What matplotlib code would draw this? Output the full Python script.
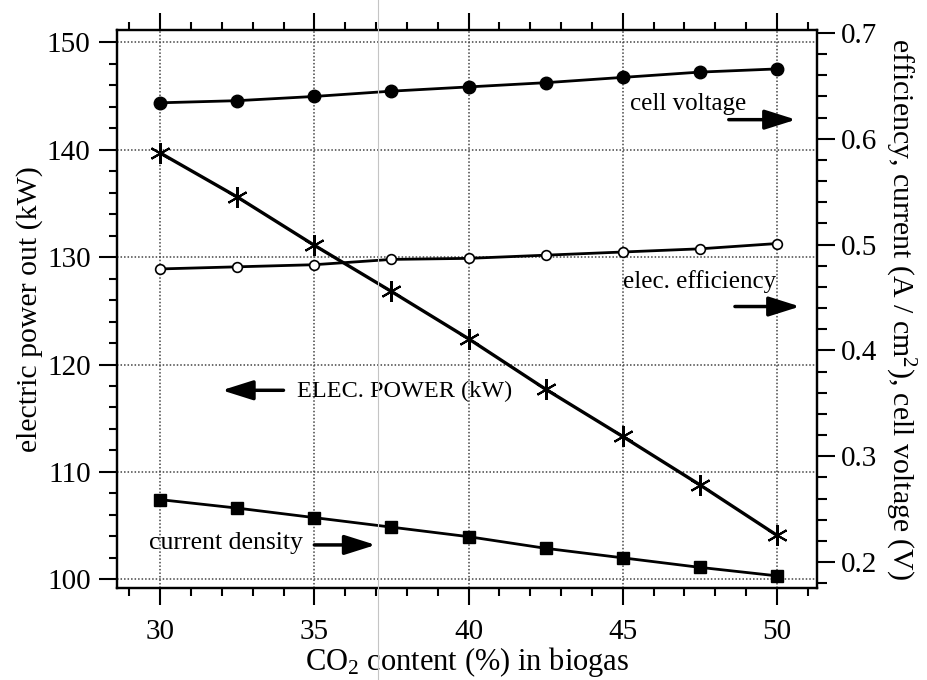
import matplotlib
matplotlib.use("Agg")
import matplotlib.pyplot as plt
from matplotlib.lines import Line2D
from matplotlib.ticker import MultipleLocator, FormatStrFormatter

plt.rcParams['font.family'] = ['Liberation Serif', 'DejaVu Serif']
plt.rcParams['mathtext.fontset'] = 'custom'
plt.rcParams['mathtext.rm'] = 'Liberation Serif'
plt.rcParams['mathtext.it'] = 'Liberation Serif:italic'

# Datos
co2 = [30, 32.5, 35, 37.5, 40, 42.5, 45, 47.5, 50]
potencia_kw = [139.7, 135.6, 131.1, 126.8, 122.4, 117.7, 113.3, 108.8, 104.1]
voltaje = [0.634, 0.636, 0.640, 0.645, 0.649, 0.653, 0.658, 0.663, 0.666]
eficiencia = [0.477, 0.479, 0.481, 0.486, 0.487, 0.490, 0.493, 0.496, 0.501]
densidad = [0.259, 0.251, 0.242, 0.233, 0.224, 0.213, 0.204, 0.195, 0.187]

x_ticks = [30, 35, 40, 45, 50]
left_ticks = [100, 110, 120, 130, 140, 150]
right_ticks = [0.2, 0.3, 0.4, 0.5, 0.6, 0.7]

fig = plt.figure(figsize=(9.27, 6.8), dpi=100)
ax = fig.add_axes([0.1262, 0.1353, 0.7551, 0.8206])
ax2 = ax.twinx()

# Ejes y rejilla
ax.set_xlim(28.6, 51.3)
ax.set_ylim(99.19, 151.15)
ax2.set_ylim(0.1755, 0.7028)
ax.set_xticks(x_ticks)
ax.set_yticks(left_ticks)
ax2.set_yticks(right_ticks)
ax.xaxis.set_minor_locator(MultipleLocator(1))
ax.yaxis.set_minor_locator(MultipleLocator(2))
ax2.yaxis.set_minor_locator(MultipleLocator(0.02))
ax2.yaxis.set_major_formatter(FormatStrFormatter('%.1f'))

ax.set_axisbelow(True)
ax.grid(True, which='major', color='#444444', linestyle=(0, (1, 1.3)), lw=1.1)

for a in (ax, ax2):
    for s in a.spines.values():
        s.set_linewidth(1.6)

ax.tick_params(axis='x', which='both', direction='out', top=True, width=1.5)
ax.tick_params(axis='x', which='major', length=12, labelsize=21, pad=10)
ax.tick_params(axis='x', which='minor', length=5.5)
ax.tick_params(axis='y', which='both', direction='out', right=False, width=1.5)
ax.tick_params(axis='y', which='major', length=13, labelsize=21, pad=6)
ax.tick_params(axis='y', which='minor', length=5.5)
ax2.tick_params(axis='y', which='both', direction='out', width=1.5)
ax2.tick_params(axis='y', which='major', length=13, labelsize=21, pad=4)
ax2.tick_params(axis='y', which='minor', length=7)

# Series
ax.plot(co2, potencia_kw, color='k', lw=2.4, marker=(6, 2, 0), ms=15, mew=1.5, zorder=3)
ax2.plot(co2, voltaje, color='k', lw=2.0, marker='o', ms=9, zorder=3)
ax2.plot(co2, eficiencia, color='k', lw=2.0, marker='o', ms=7, mfc='white', mew=1.2, zorder=3)
ax2.plot(co2, densidad, color='k', lw=2.0, marker='s', ms=9, zorder=3)

# Etiquetas
ax.set_xlabel('CO$_2$ content (%) in biogas', fontsize=22, labelpad=0)
ax.set_ylabel('electric power out (kW)', fontsize=21.5, labelpad=3)
ax2.set_ylabel('efficiency, current (A / cm$^2$), cell voltage (V)', fontsize=21.5,
               rotation=270, labelpad=29)

flecha = dict(arrowstyle='-|>,head_length=0.95,head_width=0.3', lw=2.5, color='k',
              mutation_scale=20, shrinkA=0, shrinkB=0)

ax.text(45.25, 144.3, 'cell voltage', fontsize=18, va='center')
ax.annotate('', xy=(50.62, 142.8), xytext=(48.44, 142.8), arrowprops=flecha)
ax.text(45.0, 127.7, 'elec. efficiency', fontsize=18, va='center')
ax.annotate('', xy=(50.75, 125.4), xytext=(48.64, 125.4), arrowprops=flecha)
ax.text(34.45, 117.5, 'ELEC. POWER (kW)', fontsize=17.5, va='center')
ax.annotate('', xy=(32.0, 117.6), xytext=(34.0, 117.6), arrowprops=flecha)
ax.text(29.65, 103.4, 'current density', fontsize=18.5, va='center')
ax.annotate('', xy=(36.99, 103.2), xytext=(35.0, 103.2), arrowprops=flecha)

# Línea tenue del escaneo
fig.add_artist(Line2D([378 / 927, 378 / 927], [0, 1], color='#c4c4c4', lw=0.8,
                      transform=fig.transFigure))

plt.savefig('out.png', dpi=100, facecolor='white')
